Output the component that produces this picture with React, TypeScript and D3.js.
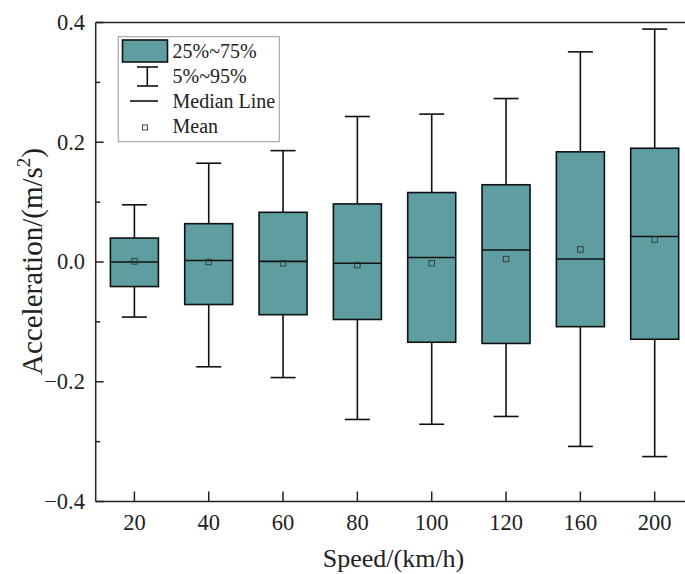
import React from "react";
import * as d3 from "d3";

const categories = ["20", "40", "60", "80", "100", "120", "160", "200"];
const whiskerLow = [-0.092, -0.175, -0.193, -0.263, -0.271, -0.258, -0.308, -0.325];
const q1 = [-0.041, -0.071, -0.088, -0.096, -0.134, -0.136, -0.108, -0.129];
const medians = [0.0, 0.0025, 0.001, -0.002, 0.0075, 0.02, 0.005, 0.0426];
const q3 = [0.04, 0.064, 0.083, 0.097, 0.116, 0.129, 0.184, 0.19];
const whiskerHigh = [0.0955, 0.165, 0.186, 0.243, 0.247, 0.273, 0.351, 0.389];
const means = [0.001, 0.0, -0.002, -0.005, -0.002, 0.005, 0.021, 0.0376];
const yMajorTicks = [-0.4, -0.2, 0.0, 0.2, 0.4];
const yMinorTicks = [-0.3, -0.1, 0.1, 0.3];
const legendLabels = ["25%~75%", "5%~95%", "Median Line", "Mean"];

const W = 685;
const H = 574;
const left = 95.7;
const top = 22.5;
const bottom = 501.5;
const right = 693.4;
const FILL = "#5F9EA0";
const FONT = "'Liberation Serif', 'Times New Roman', serif";

export default function App() {
  const x = d3.scalePoint<string>().domain(categories).range([134.4, 654.7]);
  const y = d3.scaleLinear().domain([-0.4, 0.4]).range([bottom, top]);
  const boxW = 48;
  const capW = 25;
  const fmt = (v: number) => (v < 0 ? "\u2212" : "") + Math.abs(v).toFixed(1);

  return (
    <div style={{ position: "absolute", left: 0, top: 0 }}>
      <svg width={W} height={H} style={{ display: "block", background: "#fff" }}>
        {/* boxes */}
        {categories.map((c, i) => {
          const cx = x(c)!;
          return (
            <g key={c}>
              <line x1={cx} x2={cx} y1={y(q3[i])} y2={y(whiskerHigh[i])} stroke="#111" strokeWidth={1.6} />
              <line x1={cx} x2={cx} y1={y(q1[i])} y2={y(whiskerLow[i])} stroke="#111" strokeWidth={1.6} />
              <line x1={cx - capW / 2} x2={cx + capW / 2} y1={y(whiskerHigh[i])} y2={y(whiskerHigh[i])} stroke="#111" strokeWidth={1.6} />
              <line x1={cx - capW / 2} x2={cx + capW / 2} y1={y(whiskerLow[i])} y2={y(whiskerLow[i])} stroke="#111" strokeWidth={1.6} />
              <rect x={cx - boxW / 2} y={y(q3[i])} width={boxW} height={y(q1[i]) - y(q3[i])} fill={FILL} stroke="#111" strokeWidth={1.6} />
              <line x1={cx - boxW / 2} x2={cx + boxW / 2} y1={y(medians[i])} y2={y(medians[i])} stroke="#111" strokeWidth={1.6} />
              <rect x={cx - 2.75} y={y(means[i]) - 2.75} width={5.5} height={5.5} fill="none" stroke="#333" strokeWidth={0.9} />
            </g>
          );
        })}

        {/* frame */}
        <line x1={left} x2={right} y1={top} y2={top} stroke="#222" strokeWidth={1.5} />
        <line x1={left} x2={left} y1={top} y2={bottom} stroke="#222" strokeWidth={1.5} />
        <line x1={left} x2={right} y1={bottom} y2={bottom} stroke="#222" strokeWidth={1.5} />

        {/* y ticks */}
        {yMajorTicks.map((t) => (
          <g key={"ym" + t}>
            <line x1={left} x2={left + 8} y1={y(t)} y2={y(t)} stroke="#222" strokeWidth={1.5} />
            <text x={85} y={y(t)} dy="0.33em" textAnchor="end" fontFamily={FONT} fontSize={22.5} fill="#222">
              {fmt(t)}
            </text>
          </g>
        ))}
        {yMinorTicks.map((t) => (
          <line key={"yn" + t} x1={left} x2={left + 4.5} y1={y(t)} y2={y(t)} stroke="#222" strokeWidth={1.5} />
        ))}

        {/* x ticks */}
        {categories.map((c) => (
          <g key={"xt" + c}>
            <line x1={x(c)!} x2={x(c)!} y1={bottom} y2={bottom - 10} stroke="#222" strokeWidth={1.5} />
            <text x={x(c)!} y={530} textAnchor="middle" fontFamily={FONT} fontSize={22.5} fill="#222">
              {c}
            </text>
          </g>
        ))}

        {/* axis titles */}
        <text x={393.5} y={566.5} textAnchor="middle" fontFamily={FONT} fontSize={26} fill="#222">
          Speed/(km/h)
        </text>
        <text transform={`translate(41.5, 261.5) rotate(-90)`} textAnchor="middle" fontFamily={FONT} fontSize={29} fill="#222">
          Acceleration/(m/s<tspan fontSize={19} dy={-12}>2</tspan><tspan dy={12}>)</tspan>
        </text>

        {/* legend */}
        <g>
          <rect x={118.3} y={36.7} width={161} height={105} fill="#fff" stroke="#999" strokeWidth={1} />
          <rect x={122.5} y={40} width={45} height={22} fill={FILL} stroke="#111" strokeWidth={1.6} />
          <line x1={147.3} x2={147.3} y1={67} y2={86} stroke="#111" strokeWidth={1.6} />
          <line x1={137} x2={158} y1={67} y2={67} stroke="#111" strokeWidth={1.6} />
          <line x1={137} x2={158} y1={86} y2={86} stroke="#111" strokeWidth={1.6} />
          <line x1={130} x2={158} y1={101} y2={101} stroke="#111" strokeWidth={1.6} />
          <rect x={142.5} y={125} width={5} height={5} fill="none" stroke="#333" strokeWidth={0.9} />
          {legendLabels.map((l, i) => (
            <text key={l} x={172.5} y={58 + i * 25} fontFamily={FONT} fontSize={20} fill="#222">
              {l}
            </text>
          ))}
        </g>
      </svg>
    </div>
  );
}
